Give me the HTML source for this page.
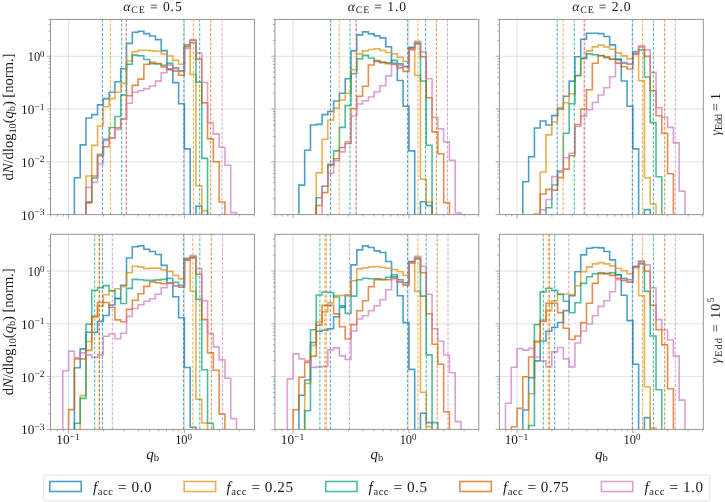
<!DOCTYPE html>
<html><head><meta charset="utf-8"><style>
html,body{margin:0;padding:0;background:#fff;}
body{width:725px;height:502px;overflow:hidden;font-family:"Liberation Serif",serif;}
svg{display:block;}
text{text-rendering:geometricPrecision;}
</style></head><body>
<svg width="725" height="502" viewBox="0 0 725 502">
<rect width="725" height="502" fill="#fff"/>
<defs>
<clipPath id="cp00"><rect x="50.5" y="19.4" width="204.0" height="195.2"/></clipPath>
<clipPath id="cp01"><rect x="274.9" y="19.4" width="203.90000000000003" height="195.2"/></clipPath>
<clipPath id="cp02"><rect x="499.4" y="19.4" width="203.89999999999998" height="195.2"/></clipPath>
<clipPath id="cp10"><rect x="50.5" y="234.3" width="204.0" height="195.09999999999997"/></clipPath>
<clipPath id="cp11"><rect x="274.9" y="234.3" width="203.90000000000003" height="195.09999999999997"/></clipPath>
<clipPath id="cp12"><rect x="499.4" y="234.3" width="203.89999999999998" height="195.09999999999997"/></clipPath>
</defs>
<path d="M50.5 161.82H254.5M50.5 109.04H254.5M50.5 56.26H254.5M68.6 19.4V214.6M184.4 19.4V214.6" stroke="#d9d9d9" stroke-width="0.8" fill="none"/>
<g clip-path="url(#cp00)" fill="none" stroke-width="1.6" stroke-linejoin="miter" stroke-linecap="butt">
<path d="M74.39 220.6V177.7H80.18V144.9H85.97V118H91.76V114.6H97.55V104.9H103.34V98.6H109.13V92.2H114.92V81.8H120.71V68.8H126.5V43.4H132.29V32.3H138.08V31.3H143.87V33.6H149.66V36H155.45V39.6H161.24V50.6H167.03V69.6H172.82V82.6H178.61V103.7H184.4V148.9H190.19V220.6H195.98V206.2H201.77V220.6" stroke="#0173B2" stroke-opacity="0.7"/>
<path d="M85.97 220.6V176H91.76V145.4H97.55V126H103.34V106.8H109.13V98.6H114.92V92.2H120.71V83.4H126.5V61H132.29V51.6H138.08V50.4H143.87V50.2H149.66V50.9H155.45V51.3H161.24V54H167.03V56H172.82V60.4H178.61V64.3H184.4V46.5H190.19V74.5H195.98V185.7H201.77V210.6H207.56V220.6" stroke="#DE8F05" stroke-opacity="0.7"/>
<path d="M85.97 220.6V201.9H91.76V178H97.55V155.8H103.34V139.4H109.13V127.5H114.92V116.5H120.71V95.1H126.5V64.3H132.29V55.1H138.08V55.7H143.87V59.5H149.66V63.8H155.45V64H161.24V65.3H167.03V63.4H172.82V67.7H178.61V70.9H184.4V44.8H190.19V42.8H195.98V82H201.77V158.4H207.56V220.6" stroke="#029E73" stroke-opacity="0.7"/>
<path d="M85.97 220.6V202.9H91.76V176H97.55V154.3H103.34V146.7H109.13V137.9H114.92V127.7H120.71V119H126.5V95.7H132.29V85.4H138.08V79.1H143.87V64.2H149.66V62.4H155.45V63.5H161.24V66.9H167.03V68.7H172.82V71.1H178.61V75.1H184.4V46.4H190.19V40.4H195.98V59.1H201.77V102.9H207.56V138.9H213.35V161.8H219.14V202H224.93V220.6" stroke="#D55E00" stroke-opacity="0.7"/>
<path d="M85.97 220.6V187.4H91.76V182.4H97.55V163.8H103.34V140.4H109.13V137.9H114.92V129.4H120.71V119H126.5V103.3H132.29V92.2H138.08V90.8H143.87V88.6H149.66V86H155.45V81.1H161.24V72.7H167.03V65.1H172.82V68.7H178.61V71.5H184.4V48.4H190.19V39.6H195.98V53.1H201.77V82.5H207.56V122.6H213.35V133.9H219.14V147.3H224.93V165.2H230.72V212.6H236.51V220.6" stroke="#CC78BC" stroke-opacity="0.7"/>
<path d="M102.4 214.6V19.4" stroke="#0173B2" stroke-opacity="0.7" stroke-width="1" stroke-dasharray="3.1 1.6"/>
<path d="M110.4 214.6V19.4" stroke="#DE8F05" stroke-opacity="0.7" stroke-width="1" stroke-dasharray="3.1 1.6"/>
<path d="M121.7 214.6V19.4" stroke="#029E73" stroke-opacity="0.7" stroke-width="1" stroke-dasharray="3.1 1.6"/>
<path d="M126.2 214.6V19.4" stroke="#D55E00" stroke-opacity="0.7" stroke-width="1" stroke-dasharray="3.1 1.6"/>
<path d="M126.4 214.6V19.4" stroke="#CC78BC" stroke-opacity="0.7" stroke-width="1" stroke-dasharray="3.1 1.6"/>
<path d="M183.9 214.6V19.4" stroke="#0173B2" stroke-opacity="0.7" stroke-width="1" stroke-dasharray="3.1 1.6"/>
<path d="M193.4 214.6V19.4" stroke="#DE8F05" stroke-opacity="0.7" stroke-width="1" stroke-dasharray="3.1 1.6"/>
<path d="M199.7 214.6V19.4" stroke="#029E73" stroke-opacity="0.7" stroke-width="1" stroke-dasharray="3.1 1.6"/>
<path d="M210.7 214.6V19.4" stroke="#D55E00" stroke-opacity="0.7" stroke-width="1" stroke-dasharray="3.1 1.6"/>
<path d="M222.1 214.6V19.4" stroke="#CC78BC" stroke-opacity="0.7" stroke-width="1" stroke-dasharray="3.1 1.6"/>
</g>
<rect x="50.5" y="19.4" width="204.0" height="195.2" fill="none" stroke="#959595" stroke-width="1"/>
<path d="M50.5 214.6h-3.8M50.5 161.82h-3.8M50.5 109.04h-3.8M50.5 56.26h-3.8M50.5 198.71h-2M50.5 189.42h-2M50.5 182.82h-2M50.5 177.71h-2M50.5 173.53h-2M50.5 170h-2M50.5 166.93h-2M50.5 164.24h-2M50.5 145.93h-2M50.5 136.64h-2M50.5 130.04h-2M50.5 124.93h-2M50.5 120.75h-2M50.5 117.22h-2M50.5 114.15h-2M50.5 111.46h-2M50.5 93.15h-2M50.5 83.86h-2M50.5 77.26h-2M50.5 72.15h-2M50.5 67.97h-2M50.5 64.44h-2M50.5 61.37h-2M50.5 58.68h-2M50.5 40.37h-2M50.5 31.08h-2M50.5 24.48h-2M50.5 19.37h-2M68.6 214.6v3.8M184.4 214.6v3.8M50.66 214.6v2M57.38 214.6v2M63.3 214.6v2M103.46 214.6v2M123.85 214.6v2M138.32 214.6v2M149.54 214.6v2M158.71 214.6v2M166.46 214.6v2M173.18 214.6v2M179.1 214.6v2M219.26 214.6v2M239.65 214.6v2M254.12 214.6v2" stroke="#959595" stroke-width="0.8" fill="none"/>
<path d="M274.9 161.82H478.8M274.9 109.04H478.8M274.9 56.26H478.8M293.1 19.4V214.6M408.9 19.4V214.6" stroke="#d9d9d9" stroke-width="0.8" fill="none"/>
<g clip-path="url(#cp01)" fill="none" stroke-width="1.6" stroke-linejoin="miter" stroke-linecap="butt">
<path d="M298.89 220.6V185.1H304.68V150.3H310.47V125H316.26V124.4H322.05V114.6H327.84V111.5H333.63V101H339.42V93.3H345.21V78.8H351V50.9H356.79V34.9H362.58V31.9H368.37V33.9H374.16V35.9H379.95V37.9H385.74V46.7H391.53V63.4H397.32V80.5H403.11V106.2H408.9V150.9H414.69V220.6H420.48V201.7H426.27V205.6H432.06V220.6" stroke="#0173B2" stroke-opacity="0.7"/>
<path d="M316.26 220.6V172.9H322.05V139.3H327.84V120H333.63V108.1H339.42V100H345.21V93.3H351V69.8H356.79V53.9H362.58V50.9H368.37V49.5H374.16V48.8H379.95V50.5H385.74V52.5H391.53V53.9H397.32V57.4H403.11V61.4H408.9V47.9H414.69V75.3H420.48V179.1H426.27V202H432.06V220.6" stroke="#DE8F05" stroke-opacity="0.7"/>
<path d="M316.26 220.6V197.8H322.05V186.3H327.84V164.4H333.63V150.9H339.42V127.4H345.21V105.5H351V73.8H356.79V58.8H362.58V55.4H368.37V58H374.16V61.4H379.95V62.1H385.74V62.7H391.53V60.4H397.32V63.9H403.11V66.4H408.9V47.3H414.69V43.9H420.48V81H426.27V145.3H432.06V220.6" stroke="#029E73" stroke-opacity="0.7"/>
<path d="M316.26 220.6V205.5H322.05V192.6H327.84V165.3H333.63V158.8H339.42V147.5H345.21V143.5H351V108.6H356.79V96.2H362.58V86.3H368.37V65H374.16V60.6H379.95V62.7H385.74V63.7H391.53V64.4H397.32V67.9H403.11V71.4H408.9V48.9H414.69V42.5H420.48V56.8H426.27V97.7H432.06V131.9H437.85V153.8H443.64V202.6H449.43V220.6" stroke="#D55E00" stroke-opacity="0.7"/>
<path d="M322.05 220.6V186.3H327.84V173.4H333.63V160.8H339.42V151.9H345.21V141.6H351V116H356.79V104H362.58V100.8H368.37V97H374.16V91.7H379.95V85.8H385.74V75.9H391.53V63.9H397.32V65.4H403.11V66.9H408.9V49.9H414.69V41.3H420.48V51.9H426.27V78.7H432.06V117.4H437.85V128.9H443.64V141.9H449.43V160.4H455.22V213H461.01V220.6" stroke="#CC78BC" stroke-opacity="0.7"/>
<path d="M330.6 214.6V19.4" stroke="#0173B2" stroke-opacity="0.7" stroke-width="1" stroke-dasharray="3.1 1.6"/>
<path d="M339.2 214.6V19.4" stroke="#DE8F05" stroke-opacity="0.7" stroke-width="1" stroke-dasharray="3.1 1.6"/>
<path d="M350.0 214.6V19.4" stroke="#029E73" stroke-opacity="0.7" stroke-width="1" stroke-dasharray="3.1 1.6"/>
<path d="M356.1 214.6V19.4" stroke="#D55E00" stroke-opacity="0.7" stroke-width="1" stroke-dasharray="3.1 1.6"/>
<path d="M356.3 214.6V19.4" stroke="#CC78BC" stroke-opacity="0.7" stroke-width="1" stroke-dasharray="3.1 1.6"/>
<path d="M407.6 214.6V19.4" stroke="#0173B2" stroke-opacity="0.7" stroke-width="1" stroke-dasharray="3.1 1.6"/>
<path d="M418.0 214.6V19.4" stroke="#DE8F05" stroke-opacity="0.7" stroke-width="1" stroke-dasharray="3.1 1.6"/>
<path d="M425.6 214.6V19.4" stroke="#029E73" stroke-opacity="0.7" stroke-width="1" stroke-dasharray="3.1 1.6"/>
<path d="M436.4 214.6V19.4" stroke="#D55E00" stroke-opacity="0.7" stroke-width="1" stroke-dasharray="3.1 1.6"/>
<path d="M447.5 214.6V19.4" stroke="#CC78BC" stroke-opacity="0.7" stroke-width="1" stroke-dasharray="3.1 1.6"/>
</g>
<rect x="274.9" y="19.4" width="203.90000000000003" height="195.2" fill="none" stroke="#959595" stroke-width="1"/>
<path d="M274.9 214.6h-3.8M274.9 161.82h-3.8M274.9 109.04h-3.8M274.9 56.26h-3.8M274.9 198.71h-2M274.9 189.42h-2M274.9 182.82h-2M274.9 177.71h-2M274.9 173.53h-2M274.9 170h-2M274.9 166.93h-2M274.9 164.24h-2M274.9 145.93h-2M274.9 136.64h-2M274.9 130.04h-2M274.9 124.93h-2M274.9 120.75h-2M274.9 117.22h-2M274.9 114.15h-2M274.9 111.46h-2M274.9 93.15h-2M274.9 83.86h-2M274.9 77.26h-2M274.9 72.15h-2M274.9 67.97h-2M274.9 64.44h-2M274.9 61.37h-2M274.9 58.68h-2M274.9 40.37h-2M274.9 31.08h-2M274.9 24.48h-2M274.9 19.37h-2M293.1 214.6v3.8M408.9 214.6v3.8M275.16 214.6v2M281.88 214.6v2M287.8 214.6v2M327.96 214.6v2M348.35 214.6v2M362.82 214.6v2M374.04 214.6v2M383.21 214.6v2M390.96 214.6v2M397.68 214.6v2M403.6 214.6v2M443.76 214.6v2M464.15 214.6v2M478.62 214.6v2" stroke="#959595" stroke-width="0.8" fill="none"/>
<path d="M499.4 161.82H703.3M499.4 109.04H703.3M499.4 56.26H703.3M517.05 19.4V214.6M632.85 19.4V214.6" stroke="#d9d9d9" stroke-width="0.8" fill="none"/>
<g clip-path="url(#cp02)" fill="none" stroke-width="1.6" stroke-linejoin="miter" stroke-linecap="butt">
<path d="M522.84 220.6V181.7H528.63V156.8H534.42V128H540.21V121H546V125H551.79V115.6H557.58V109H563.37V96.3H569.16V81.1H574.95V56.8H580.74V39.3H586.53V33.3H592.32V33.3H598.11V33.6H603.9V36.5H609.69V44.9H615.48V59.6H621.27V81H627.06V106.2H632.85V148.9H638.64V220.6H644.43V209.6H650.22V220.6" stroke="#0173B2" stroke-opacity="0.7"/>
<path d="M534.42 220.6V213.7H540.21V172.2H546V134.9H551.79V122H557.58V107.6H563.37V102.7H569.16V93.7H574.95V75.2H580.74V58.4H586.53V50.9H592.32V46.9H598.11V45.1H603.9V46.9H609.69V49.3H615.48V52.9H621.27V55.9H627.06V58.9H632.85V54.4H638.64V80.8H644.43V177.7H650.22V204H656.01V220.6" stroke="#DE8F05" stroke-opacity="0.7"/>
<path d="M546 220.6V207.7H551.79V185H557.58V171H563.37V133.3H569.16V103.8H574.95V75.8H580.74V58.4H586.53V53.9H592.32V54.8H598.11V55.8H603.9V57.8H609.69V59.2H615.48V59H621.27V63.2H627.06V64H632.85V51.6H638.64V49.9H644.43V77H650.22V122.6H656.01V176.8H661.8V220.6" stroke="#029E73" stroke-opacity="0.7"/>
<path d="M540.21 220.6V194H546V189.4H551.79V190.1H557.58V177.6H563.37V169.1H569.16V155.8H574.95V124.5H580.74V109H586.53V89.7H592.32V63.2H598.11V55.5H603.9V56.8H609.69V59.2H615.48V63.3H621.27V66.8H627.06V69H632.85V53.6H638.64V47H644.43V56.4H650.22V90.7H656.01V115.8H661.8V133.3H667.59V173.8H673.38V220.6" stroke="#D55E00" stroke-opacity="0.7"/>
<path d="M540.21 220.6V209.8H546V199.5H551.79V176.6H557.58V172.4H563.37V157.8H569.16V153.2H574.95V126.4H580.74V116.1H586.53V109.7H592.32V102.5H598.11V95H603.9V87.7H609.69V76.8H615.48V62.9H621.27V62.4H627.06V64.2H632.85V53.2H638.64V45.7H644.43V49.9H650.22V72.4H656.01V107.6H661.8V117H667.59V127.4H673.38V142.9H679.17V191.1H684.96V220.6" stroke="#CC78BC" stroke-opacity="0.7"/>
<path d="M557.2 214.6V19.4" stroke="#0173B2" stroke-opacity="0.7" stroke-width="1" stroke-dasharray="3.1 1.6"/>
<path d="M563.1 214.6V19.4" stroke="#DE8F05" stroke-opacity="0.7" stroke-width="1" stroke-dasharray="3.1 1.6"/>
<path d="M574.3 214.6V19.4" stroke="#029E73" stroke-opacity="0.7" stroke-width="1" stroke-dasharray="3.1 1.6"/>
<path d="M584.1 214.6V19.4" stroke="#D55E00" stroke-opacity="0.7" stroke-width="1" stroke-dasharray="3.1 1.6"/>
<path d="M584.8 214.6V19.4" stroke="#CC78BC" stroke-opacity="0.7" stroke-width="1" stroke-dasharray="3.1 1.6"/>
<path d="M632.3 214.6V19.4" stroke="#0173B2" stroke-opacity="0.7" stroke-width="1" stroke-dasharray="3.1 1.6"/>
<path d="M642.6 214.6V19.4" stroke="#DE8F05" stroke-opacity="0.7" stroke-width="1" stroke-dasharray="3.1 1.6"/>
<path d="M653.4 214.6V19.4" stroke="#029E73" stroke-opacity="0.7" stroke-width="1" stroke-dasharray="3.1 1.6"/>
<path d="M664.7 214.6V19.4" stroke="#D55E00" stroke-opacity="0.7" stroke-width="1" stroke-dasharray="3.1 1.6"/>
<path d="M675.3 214.6V19.4" stroke="#CC78BC" stroke-opacity="0.7" stroke-width="1" stroke-dasharray="3.1 1.6"/>
</g>
<rect x="499.4" y="19.4" width="203.89999999999998" height="195.2" fill="none" stroke="#959595" stroke-width="1"/>
<path d="M499.4 214.6h-3.8M499.4 161.82h-3.8M499.4 109.04h-3.8M499.4 56.26h-3.8M499.4 198.71h-2M499.4 189.42h-2M499.4 182.82h-2M499.4 177.71h-2M499.4 173.53h-2M499.4 170h-2M499.4 166.93h-2M499.4 164.24h-2M499.4 145.93h-2M499.4 136.64h-2M499.4 130.04h-2M499.4 124.93h-2M499.4 120.75h-2M499.4 117.22h-2M499.4 114.15h-2M499.4 111.46h-2M499.4 93.15h-2M499.4 83.86h-2M499.4 77.26h-2M499.4 72.15h-2M499.4 67.97h-2M499.4 64.44h-2M499.4 61.37h-2M499.4 58.68h-2M499.4 40.37h-2M499.4 31.08h-2M499.4 24.48h-2M499.4 19.37h-2M517.05 214.6v3.8M632.85 214.6v3.8M505.83 214.6v2M511.75 214.6v2M551.91 214.6v2M572.3 214.6v2M586.77 214.6v2M597.99 214.6v2M607.16 214.6v2M614.91 214.6v2M621.63 214.6v2M627.55 214.6v2M667.71 214.6v2M688.1 214.6v2M702.57 214.6v2" stroke="#959595" stroke-width="0.8" fill="none"/>
<path d="M50.5 376.62H254.5M50.5 323.84H254.5M50.5 271.06H254.5M68.6 234.3V429.4M184.4 234.3V429.4" stroke="#d9d9d9" stroke-width="0.8" fill="none"/>
<g clip-path="url(#cp10)" fill="none" stroke-width="1.6" stroke-linejoin="miter" stroke-linecap="butt">
<path d="M74.39 435.4V367.8H80.18V348.9H85.97V332.3H91.76V332.3H97.55V321.4H103.34V315.5H109.13V305H114.92V298.5H120.71V285.2H126.5V258H132.29V246.8H138.08V245.9H143.87V249.2H149.66V251.5H155.45V254.5H161.24V265.4H167.03V283.3H172.82V296.7H178.61V317.7H184.4V367.5H190.19V427.2H195.98V435.4" stroke="#0173B2" stroke-opacity="0.7"/>
<path d="M80.18 435.4V395.6H85.97V341.5H91.76V316H97.55V306.1H103.34V294.6H109.13V291.2H114.92V288.7H120.71V286.6H126.5V272.8H132.29V266.3H138.08V266.9H143.87V268.6H149.66V268.1H155.45V268.1H161.24V269.9H167.03V271.4H172.82V275.4H178.61V278.9H184.4V260H190.19V291.2H195.98V399.3H201.77V423H207.56V435.4" stroke="#DE8F05" stroke-opacity="0.7"/>
<path d="M74.39 435.4V423.2H80.18V398.4H85.97V324.2H91.76V290.4H97.55V287.8H103.34V285.6H109.13V290.5H114.92V298.5H120.71V303.5H126.5V288.4H132.29V279.4H138.08V279.8H143.87V280.4H149.66V280.2H155.45V279.9H161.24V279.4H167.03V278.4H172.82V282.4H178.61V285.3H184.4V258.3H190.19V257.9H195.98V299.3H201.77V369.8H207.56V423.2H213.35V435.4" stroke="#029E73" stroke-opacity="0.7"/>
<path d="M68.6 435.4V409.6H74.39V358.9H80.18V358.9H85.97V350.4H91.76V316.9H97.55V302.5H103.34V302.5H109.13V307.4H114.92V319.9H120.71V321.7H126.5V309.4H132.29V300.2H138.08V293.8H143.87V286.4H149.66V281.9H155.45V282.8H161.24V283.8H167.03V283H172.82V285.8H178.61V287.3H184.4V259.9H190.19V256.9H195.98V274.2H201.77V319.6H207.56V352.9H213.35V370.2H219.14V414.1H224.93V435.4" stroke="#D55E00" stroke-opacity="0.7"/>
<path d="M62.81 435.4V370.8H68.6V351.1H74.39V357.9H80.18V352.9H85.97V354.9H91.76V357.4H97.55V354.9H103.34V336.3H109.13V333.8H114.92V338.8H120.71V333.3H126.5V316.4H132.29V308.5H138.08V304.7H143.87V301.3H149.66V298.7H155.45V294.3H161.24V287.8H167.03V283H172.82V285.8H178.61V287.3H184.4V260.5H190.19V255.5H195.98V268.5H201.77V300.7H207.56V333.6H213.35V346.9H219.14V359.9H224.93V378.2H230.72V418.6H236.51V435.4" stroke="#CC78BC" stroke-opacity="0.7"/>
<path d="M94.7 429.4V234.3" stroke="#029E73" stroke-opacity="0.7" stroke-width="1" stroke-dasharray="3.1 1.6"/>
<path d="M99.0 429.4V234.3" stroke="#DE8F05" stroke-opacity="0.7" stroke-width="1" stroke-dasharray="3.1 1.6"/>
<path d="M99.5 429.4V234.3" stroke="#D55E00" stroke-opacity="0.7" stroke-width="1" stroke-dasharray="3.1 1.6"/>
<path d="M102.4 429.4V234.3" stroke="#0173B2" stroke-opacity="0.7" stroke-width="1" stroke-dasharray="3.1 1.6"/>
<path d="M112.3 429.4V234.3" stroke="#CC78BC" stroke-opacity="0.7" stroke-width="1" stroke-dasharray="3.1 1.6"/>
<path d="M183.6 429.4V234.3" stroke="#0173B2" stroke-opacity="0.7" stroke-width="1" stroke-dasharray="3.1 1.6"/>
<path d="M192.9 429.4V234.3" stroke="#DE8F05" stroke-opacity="0.7" stroke-width="1" stroke-dasharray="3.1 1.6"/>
<path d="M199.8 429.4V234.3" stroke="#029E73" stroke-opacity="0.7" stroke-width="1" stroke-dasharray="3.1 1.6"/>
<path d="M211.3 429.4V234.3" stroke="#D55E00" stroke-opacity="0.7" stroke-width="1" stroke-dasharray="3.1 1.6"/>
<path d="M222.6 429.4V234.3" stroke="#CC78BC" stroke-opacity="0.7" stroke-width="1" stroke-dasharray="3.1 1.6"/>
</g>
<rect x="50.5" y="234.3" width="204.0" height="195.09999999999997" fill="none" stroke="#959595" stroke-width="1"/>
<path d="M50.5 429.4h-3.8M50.5 376.62h-3.8M50.5 323.84h-3.8M50.5 271.06h-3.8M50.5 413.51h-2M50.5 404.22h-2M50.5 397.62h-2M50.5 392.51h-2M50.5 388.33h-2M50.5 384.8h-2M50.5 381.73h-2M50.5 379.04h-2M50.5 360.73h-2M50.5 351.44h-2M50.5 344.84h-2M50.5 339.73h-2M50.5 335.55h-2M50.5 332.02h-2M50.5 328.95h-2M50.5 326.26h-2M50.5 307.95h-2M50.5 298.66h-2M50.5 292.06h-2M50.5 286.95h-2M50.5 282.77h-2M50.5 279.24h-2M50.5 276.17h-2M50.5 273.48h-2M50.5 255.17h-2M50.5 245.88h-2M50.5 239.28h-2M68.6 429.4v3.8M184.4 429.4v3.8M50.66 429.4v2M57.38 429.4v2M63.3 429.4v2M103.46 429.4v2M123.85 429.4v2M138.32 429.4v2M149.54 429.4v2M158.71 429.4v2M166.46 429.4v2M173.18 429.4v2M179.1 429.4v2M219.26 429.4v2M239.65 429.4v2M254.12 429.4v2" stroke="#959595" stroke-width="0.8" fill="none"/>
<path d="M274.9 376.62H478.8M274.9 323.84H478.8M274.9 271.06H478.8M293.1 234.3V429.4M408.9 234.3V429.4" stroke="#d9d9d9" stroke-width="0.8" fill="none"/>
<g clip-path="url(#cp11)" fill="none" stroke-width="1.6" stroke-linejoin="miter" stroke-linecap="butt">
<path d="M298.89 435.4V395.3H304.68V380H310.47V342.5H316.26V331.3H322.05V330.3H327.84V328.8H333.63V316.7H339.42V307.4H345.21V295H351V264.9H356.79V249.9H362.58V245.9H368.37V247.5H374.16V250.9H379.95V252.5H385.74V261.5H391.53V276.8H397.32V295.7H403.11V322.6H408.9V369.4H414.69V435.4H420.48V413.3H426.27V422.6H432.06V435.4" stroke="#0173B2" stroke-opacity="0.7"/>
<path d="M304.68 435.4V383.4H310.47V345.4H316.26V322H322.05V311.9H327.84V302.9H333.63V295.5H339.42V295.5H345.21V296H351V280.8H356.79V268.9H362.58V267.9H368.37V266.9H374.16V266.6H379.95V267.5H385.74V268.3H391.53V269.5H397.32V271.8H403.11V275.4H408.9V261.9H414.69V291.4H420.48V392.2H426.27V426.6H432.06V435.4" stroke="#DE8F05" stroke-opacity="0.7"/>
<path d="M304.68 435.4V410.7H310.47V329.8H316.26V295H322.05V292H327.84V292.5H333.63V297H339.42V305.9H345.21V313.4H351V296.1H356.79V279.8H362.58V278.2H368.37V278.8H374.16V278.8H379.95V279.4H385.74V277.4H391.53V274.8H397.32V279.8H403.11V282.8H408.9V261.5H414.69V258.9H420.48V296.1H426.27V354.9H432.06V422.6H437.85V435.4" stroke="#029E73" stroke-opacity="0.7"/>
<path d="M293.1 435.4V409.8H298.89V377.2H304.68V362.4H310.47V356.1H316.26V325.3H322.05V305.4H327.84V305.4H333.63V313.9H339.42V326.8H345.21V339H351V324.6H356.79V310.7H362.58V300.7H368.37V286.8H374.16V279.6H379.95V279.8H385.74V279.8H391.53V278.2H397.32V282.2H403.11V285.4H408.9V262.9H414.69V257.5H420.48V272.8H426.27V313.7H432.06V344.2H437.85V364.3H443.64V411.7H449.43V435.4" stroke="#D55E00" stroke-opacity="0.7"/>
<path d="M287.31 435.4V378.9H293.1V353.9H298.89V358.9H304.68V360.9H310.47V367.4H316.26V366.9H322.05V366.4H327.84V349.9H333.63V347.9H339.42V355.9H345.21V359.5H351V331H356.79V319H362.58V315.7H368.37V310.7H374.16V305.7H379.95V299.7H385.74V289.8H391.53V278.8H397.32V281.4H403.11V284.2H408.9V262.9H414.69V256.3H420.48V266.3H426.27V294.2H432.06V328.7H437.85V341.2H443.64V355H449.43V372.8H455.22V421.6H461.01V435.4" stroke="#CC78BC" stroke-opacity="0.7"/>
<path d="M319.9 429.4V234.3" stroke="#029E73" stroke-opacity="0.7" stroke-width="1" stroke-dasharray="3.1 1.6"/>
<path d="M324.8 429.4V234.3" stroke="#DE8F05" stroke-opacity="0.7" stroke-width="1" stroke-dasharray="3.1 1.6"/>
<path d="M326.2 429.4V234.3" stroke="#D55E00" stroke-opacity="0.7" stroke-width="1" stroke-dasharray="3.1 1.6"/>
<path d="M330.3 429.4V234.3" stroke="#0173B2" stroke-opacity="0.7" stroke-width="1" stroke-dasharray="3.1 1.6"/>
<path d="M349.4 429.4V234.3" stroke="#CC78BC" stroke-opacity="0.7" stroke-width="1" stroke-dasharray="3.1 1.6"/>
<path d="M407.6 429.4V234.3" stroke="#0173B2" stroke-opacity="0.7" stroke-width="1" stroke-dasharray="3.1 1.6"/>
<path d="M417.9 429.4V234.3" stroke="#DE8F05" stroke-opacity="0.7" stroke-width="1" stroke-dasharray="3.1 1.6"/>
<path d="M426.2 429.4V234.3" stroke="#029E73" stroke-opacity="0.7" stroke-width="1" stroke-dasharray="3.1 1.6"/>
<path d="M437.2 429.4V234.3" stroke="#D55E00" stroke-opacity="0.7" stroke-width="1" stroke-dasharray="3.1 1.6"/>
<path d="M448.0 429.4V234.3" stroke="#CC78BC" stroke-opacity="0.7" stroke-width="1" stroke-dasharray="3.1 1.6"/>
</g>
<rect x="274.9" y="234.3" width="203.90000000000003" height="195.09999999999997" fill="none" stroke="#959595" stroke-width="1"/>
<path d="M274.9 429.4h-3.8M274.9 376.62h-3.8M274.9 323.84h-3.8M274.9 271.06h-3.8M274.9 413.51h-2M274.9 404.22h-2M274.9 397.62h-2M274.9 392.51h-2M274.9 388.33h-2M274.9 384.8h-2M274.9 381.73h-2M274.9 379.04h-2M274.9 360.73h-2M274.9 351.44h-2M274.9 344.84h-2M274.9 339.73h-2M274.9 335.55h-2M274.9 332.02h-2M274.9 328.95h-2M274.9 326.26h-2M274.9 307.95h-2M274.9 298.66h-2M274.9 292.06h-2M274.9 286.95h-2M274.9 282.77h-2M274.9 279.24h-2M274.9 276.17h-2M274.9 273.48h-2M274.9 255.17h-2M274.9 245.88h-2M274.9 239.28h-2M293.1 429.4v3.8M408.9 429.4v3.8M275.16 429.4v2M281.88 429.4v2M287.8 429.4v2M327.96 429.4v2M348.35 429.4v2M362.82 429.4v2M374.04 429.4v2M383.21 429.4v2M390.96 429.4v2M397.68 429.4v2M403.6 429.4v2M443.76 429.4v2M464.15 429.4v2M478.62 429.4v2" stroke="#959595" stroke-width="0.8" fill="none"/>
<path d="M499.4 376.62H703.3M499.4 323.84H703.3M499.4 271.06H703.3M517.05 234.3V429.4M632.85 234.3V429.4" stroke="#d9d9d9" stroke-width="0.8" fill="none"/>
<g clip-path="url(#cp12)" fill="none" stroke-width="1.6" stroke-linejoin="miter" stroke-linecap="butt">
<path d="M522.84 435.4V410H528.63V377.8H534.42V360.9H540.21V341H546V331.3H551.79V327.2H557.58V322.5H563.37V310.6H569.16V295.7H574.95V271.8H580.74V254.9H586.53V248.3H592.32V247.5H598.11V247.9H603.9V251.5H609.69V259.9H615.48V274.8H621.27V295.3H627.06V320.6H632.85V364.3H638.64V435.4H644.43V417.6H650.22V435.4" stroke="#0173B2" stroke-opacity="0.7"/>
<path d="M528.63 435.4V393.8H534.42V341H540.21V320H546V310.6H551.79V300.7H557.58V294H563.37V294H569.16V294.5H574.95V285.8H580.74V271.8H586.53V266.9H592.32V263.9H598.11V262.6H603.9V263.9H609.69V265.9H615.48V268.5H621.27V270.8H627.06V273.8H632.85V266.9H638.64V295.7H644.43V386.8H650.22V428H656.01V435.4" stroke="#DE8F05" stroke-opacity="0.7"/>
<path d="M528.63 435.4V425.5H534.42V324.6H540.21V291.9H546V288.3H551.79V290.4H557.58V294.5H563.37V301.2H569.16V312.7H574.95V302.7H580.74V283.4H586.53V276.8H592.32V273.8H598.11V272.8H603.9V273.8H609.69V272.8H615.48V274.8H621.27V278.2H627.06V279.8H632.85V266.3H638.64V263.9H644.43V291.4H650.22V336H656.01V389.8H661.8V435.4" stroke="#029E73" stroke-opacity="0.7"/>
<path d="M511.26 435.4V426.8H517.05V408.4H522.84V376.7H528.63V357H534.42V342H540.21V321.5H546V303.3H551.79V303.3H557.58V312.6H563.37V328.2H569.16V339.5H574.95V336H580.74V322.6H586.53V303.3H592.32V283.4H598.11V273.8H603.9V273.4H609.69V275.4H615.48V278.2H621.27V280.8H627.06V282.2H632.85V267.5H638.64V261.9H644.43V271.4H650.22V305.3H656.01V329.6H661.8V344.9H667.59V388.8H673.38V435.4" stroke="#D55E00" stroke-opacity="0.7"/>
<path d="M505.47 435.4V403.2H511.26V367.3H517.05V348.8H522.84V350.1H528.63V348.4H534.42V357H540.21V360.9H546V366.9H551.79V351.9H557.58V347.5H563.37V358.9H569.16V366.9H574.95V343H580.74V331H586.53V324H592.32V315.7H598.11V306.4H603.9V300.7H609.69V291.8H615.48V279.8H621.27V279.4H627.06V281.8H632.85V267.5H638.64V260.9H644.43V264.9H650.22V287.8H656.01V319.6H661.8V330H667.59V340H673.38V355.9H679.17V400.1H684.96V435.4" stroke="#CC78BC" stroke-opacity="0.7"/>
<path d="M543.3 429.4V234.3" stroke="#029E73" stroke-opacity="0.7" stroke-width="1" stroke-dasharray="3.1 1.6"/>
<path d="M548.2 429.4V234.3" stroke="#DE8F05" stroke-opacity="0.7" stroke-width="1" stroke-dasharray="3.1 1.6"/>
<path d="M549.6 429.4V234.3" stroke="#D55E00" stroke-opacity="0.7" stroke-width="1" stroke-dasharray="3.1 1.6"/>
<path d="M554.7 429.4V234.3" stroke="#0173B2" stroke-opacity="0.7" stroke-width="1" stroke-dasharray="3.1 1.6"/>
<path d="M568.8 429.4V234.3" stroke="#CC78BC" stroke-opacity="0.7" stroke-width="1" stroke-dasharray="3.1 1.6"/>
<path d="M632.3 429.4V234.3" stroke="#0173B2" stroke-opacity="0.7" stroke-width="1" stroke-dasharray="3.1 1.6"/>
<path d="M642.6 429.4V234.3" stroke="#DE8F05" stroke-opacity="0.7" stroke-width="1" stroke-dasharray="3.1 1.6"/>
<path d="M653.4 429.4V234.3" stroke="#029E73" stroke-opacity="0.7" stroke-width="1" stroke-dasharray="3.1 1.6"/>
<path d="M664.7 429.4V234.3" stroke="#D55E00" stroke-opacity="0.7" stroke-width="1" stroke-dasharray="3.1 1.6"/>
<path d="M675.3 429.4V234.3" stroke="#CC78BC" stroke-opacity="0.7" stroke-width="1" stroke-dasharray="3.1 1.6"/>
</g>
<rect x="499.4" y="234.3" width="203.89999999999998" height="195.09999999999997" fill="none" stroke="#959595" stroke-width="1"/>
<path d="M499.4 429.4h-3.8M499.4 376.62h-3.8M499.4 323.84h-3.8M499.4 271.06h-3.8M499.4 413.51h-2M499.4 404.22h-2M499.4 397.62h-2M499.4 392.51h-2M499.4 388.33h-2M499.4 384.8h-2M499.4 381.73h-2M499.4 379.04h-2M499.4 360.73h-2M499.4 351.44h-2M499.4 344.84h-2M499.4 339.73h-2M499.4 335.55h-2M499.4 332.02h-2M499.4 328.95h-2M499.4 326.26h-2M499.4 307.95h-2M499.4 298.66h-2M499.4 292.06h-2M499.4 286.95h-2M499.4 282.77h-2M499.4 279.24h-2M499.4 276.17h-2M499.4 273.48h-2M499.4 255.17h-2M499.4 245.88h-2M499.4 239.28h-2M517.05 429.4v3.8M632.85 429.4v3.8M505.83 429.4v2M511.75 429.4v2M551.91 429.4v2M572.3 429.4v2M586.77 429.4v2M597.99 429.4v2M607.16 429.4v2M614.91 429.4v2M621.63 429.4v2M627.55 429.4v2M667.71 429.4v2M688.1 429.4v2M702.57 429.4v2" stroke="#959595" stroke-width="0.8" fill="none"/>
<g opacity="0.999">
<text x="44.6" y="219.6" font-family="'Liberation Serif', serif" font-size="13.3" fill="#1a1a1a" text-anchor="end">10<tspan dy="-4.4" font-size="9.58">−3</tspan></text>
<text x="44.6" y="166.82" font-family="'Liberation Serif', serif" font-size="13.3" fill="#1a1a1a" text-anchor="end">10<tspan dy="-4.4" font-size="9.58">−2</tspan></text>
<text x="44.6" y="114.04" font-family="'Liberation Serif', serif" font-size="13.3" fill="#1a1a1a" text-anchor="end">10<tspan dy="-4.4" font-size="9.58">−1</tspan></text>
<text x="44.6" y="61.26" font-family="'Liberation Serif', serif" font-size="13.3" fill="#1a1a1a" text-anchor="end" textLength="16.9" lengthAdjust="spacingAndGlyphs">10<tspan dy="-4.4" font-size="9.58">0</tspan></text>
<text x="44.6" y="434.4" font-family="'Liberation Serif', serif" font-size="13.3" fill="#1a1a1a" text-anchor="end">10<tspan dy="-4.4" font-size="9.58">−3</tspan></text>
<text x="44.6" y="381.62" font-family="'Liberation Serif', serif" font-size="13.3" fill="#1a1a1a" text-anchor="end">10<tspan dy="-4.4" font-size="9.58">−2</tspan></text>
<text x="44.6" y="328.84" font-family="'Liberation Serif', serif" font-size="13.3" fill="#1a1a1a" text-anchor="end">10<tspan dy="-4.4" font-size="9.58">−1</tspan></text>
<text x="44.6" y="276.06" font-family="'Liberation Serif', serif" font-size="13.3" fill="#1a1a1a" text-anchor="end" textLength="16.9" lengthAdjust="spacingAndGlyphs">10<tspan dy="-4.4" font-size="9.58">0</tspan></text>
<text x="68" y="444" font-family="'Liberation Serif', serif" font-size="13.3" fill="#1a1a1a" text-anchor="middle">10<tspan dy="-4.4" font-size="9.58">−1</tspan></text>
<text x="183.6" y="444" font-family="'Liberation Serif', serif" font-size="13.3" fill="#1a1a1a" text-anchor="middle" textLength="16.9" lengthAdjust="spacingAndGlyphs">10<tspan dy="-4.4" font-size="9.58">0</tspan></text>
<text x="292.5" y="444" font-family="'Liberation Serif', serif" font-size="13.3" fill="#1a1a1a" text-anchor="middle">10<tspan dy="-4.4" font-size="9.58">−1</tspan></text>
<text x="408.1" y="444" font-family="'Liberation Serif', serif" font-size="13.3" fill="#1a1a1a" text-anchor="middle" textLength="16.9" lengthAdjust="spacingAndGlyphs">10<tspan dy="-4.4" font-size="9.58">0</tspan></text>
<text x="516.45" y="444" font-family="'Liberation Serif', serif" font-size="13.3" fill="#1a1a1a" text-anchor="middle">10<tspan dy="-4.4" font-size="9.58">−1</tspan></text>
<text x="632.05" y="444" font-family="'Liberation Serif', serif" font-size="13.3" fill="#1a1a1a" text-anchor="middle" textLength="16.9" lengthAdjust="spacingAndGlyphs">10<tspan dy="-4.4" font-size="9.58">0</tspan></text>
<text x="152.5" y="10.5" font-family="'Liberation Serif', serif" font-size="13.6" fill="#1a1a1a" text-anchor="middle" textLength="58.4" lengthAdjust="spacing"><tspan font-style="italic">α</tspan><tspan font-size="9.8" dy="2.3">CE</tspan><tspan dy="-2.3"> = 0.5</tspan></text>
<text x="376.85" y="10.5" font-family="'Liberation Serif', serif" font-size="13.6" fill="#1a1a1a" text-anchor="middle" textLength="58.4" lengthAdjust="spacing"><tspan font-style="italic">α</tspan><tspan font-size="9.8" dy="2.3">CE</tspan><tspan dy="-2.3"> = 1.0</tspan></text>
<text x="601.35" y="10.5" font-family="'Liberation Serif', serif" font-size="13.6" fill="#1a1a1a" text-anchor="middle" textLength="58.4" lengthAdjust="spacing"><tspan font-style="italic">α</tspan><tspan font-size="9.8" dy="2.3">CE</tspan><tspan dy="-2.3"> = 2.0</tspan></text>
<text x="152.5" y="458.6" font-family="'Liberation Serif', serif" font-size="15" fill="#1a1a1a" text-anchor="middle"><tspan font-style="italic">q</tspan><tspan font-size="10.5" dy="2.4">b</tspan></text>
<text x="376.85" y="458.6" font-family="'Liberation Serif', serif" font-size="15" fill="#1a1a1a" text-anchor="middle"><tspan font-style="italic">q</tspan><tspan font-size="10.5" dy="2.4">b</tspan></text>
<text x="601.35" y="458.6" font-family="'Liberation Serif', serif" font-size="15" fill="#1a1a1a" text-anchor="middle"><tspan font-style="italic">q</tspan><tspan font-size="10.5" dy="2.4">b</tspan></text>
<text transform="translate(12.9 117) rotate(-90)" font-family="'Liberation Serif', serif" font-size="14.8" fill="#1a1a1a" text-anchor="middle" textLength="127" lengthAdjust="spacing">d<tspan font-style="italic">N</tspan>/dlog<tspan font-size="10.4" dy="2.6">10</tspan><tspan dy="-2.6">(</tspan><tspan font-style="italic">q</tspan><tspan font-size="10.4" dy="2.4">b</tspan><tspan dy="-2.4">) [norm.]</tspan></text>
<text transform="translate(12.9 331.85) rotate(-90)" font-family="'Liberation Serif', serif" font-size="14.8" fill="#1a1a1a" text-anchor="middle" textLength="127" lengthAdjust="spacing">d<tspan font-style="italic">N</tspan>/dlog<tspan font-size="10.4" dy="2.6">10</tspan><tspan dy="-2.6">(</tspan><tspan font-style="italic">q</tspan><tspan font-size="10.4" dy="2.4">b</tspan><tspan dy="-2.4">) [norm.]</tspan></text>
<text transform="translate(719.5 114.3) rotate(-90)" font-family="'Liberation Serif', serif" font-size="14" fill="#1a1a1a" text-anchor="middle" textLength="42.4" lengthAdjust="spacing"><tspan font-style="italic">γ</tspan><tspan font-size="10.4" dy="2.6">Edd</tspan><tspan dy="-2.6"> = 1</tspan></text>
<text transform="translate(719.5 330.6) rotate(-90)" font-family="'Liberation Serif', serif" font-size="14" fill="#1a1a1a" text-anchor="middle" textLength="66.0" lengthAdjust="spacing"><tspan font-style="italic">γ</tspan><tspan font-size="10.4" dy="2.6">Edd</tspan><tspan dy="-2.6"> = 10</tspan><tspan font-size="10" dy="-5.6">5</tspan></text>
<rect x="43.6" y="475" width="666.2" height="26" rx="2.5" ry="2.5" fill="#fff" fill-opacity="0.8" stroke="#dcdcdc" stroke-width="0.8"/>
<rect x="49.8" y="481.5" width="31.4" height="10" fill="none" stroke="#0173B2" stroke-opacity="0.7" stroke-width="1.6"/>
<text x="92.9" y="492" font-family="'Liberation Serif', serif" font-size="15.2" fill="#1a1a1a" textLength="58.8" lengthAdjust="spacing"><tspan font-style="italic">f</tspan><tspan font-size="10.6" dy="2.6">acc</tspan><tspan dy="-2.6"> = 0.0</tspan></text>
<rect x="184.20000000000002" y="481.5" width="31.4" height="10" fill="none" stroke="#DE8F05" stroke-opacity="0.7" stroke-width="1.6"/>
<text x="226.6" y="492" font-family="'Liberation Serif', serif" font-size="15.2" fill="#1a1a1a" textLength="66.4" lengthAdjust="spacing"><tspan font-style="italic">f</tspan><tspan font-size="10.6" dy="2.6">acc</tspan><tspan dy="-2.6"> = 0.25</tspan></text>
<rect x="325.7" y="481.5" width="31.4" height="10" fill="none" stroke="#029E73" stroke-opacity="0.7" stroke-width="1.6"/>
<text x="368.6" y="492" font-family="'Liberation Serif', serif" font-size="15.2" fill="#1a1a1a" textLength="58.4" lengthAdjust="spacing"><tspan font-style="italic">f</tspan><tspan font-size="10.6" dy="2.6">acc</tspan><tspan dy="-2.6"> = 0.5</tspan></text>
<rect x="459.90000000000003" y="481.5" width="31.4" height="10" fill="none" stroke="#D55E00" stroke-opacity="0.7" stroke-width="1.6"/>
<text x="503.0" y="492" font-family="'Liberation Serif', serif" font-size="15.2" fill="#1a1a1a" textLength="65.6" lengthAdjust="spacing"><tspan font-style="italic">f</tspan><tspan font-size="10.6" dy="2.6">acc</tspan><tspan dy="-2.6"> = 0.75</tspan></text>
<rect x="601.4" y="481.5" width="31.4" height="10" fill="none" stroke="#CC78BC" stroke-opacity="0.7" stroke-width="1.6"/>
<text x="644.5" y="492" font-family="'Liberation Serif', serif" font-size="15.2" fill="#1a1a1a" textLength="58.5" lengthAdjust="spacing"><tspan font-style="italic">f</tspan><tspan font-size="10.6" dy="2.6">acc</tspan><tspan dy="-2.6"> = 1.0</tspan></text>
</g>
</svg>
</body></html>
